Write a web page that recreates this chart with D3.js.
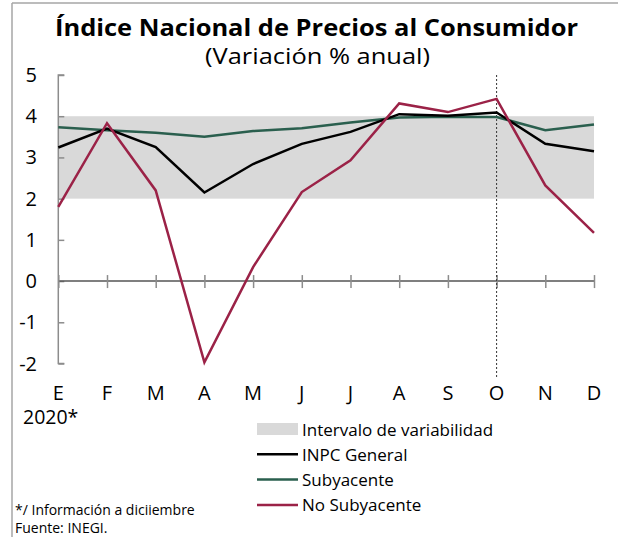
<!DOCTYPE html>
<html>
<head>
<meta charset="utf-8">
<script src="https://cdn.jsdelivr.net/npm/d3@7"></script>
<style>
  html, body { margin: 0; padding: 0; background: #fff; }
  svg { display: block; font-family: "Open Sans", "DejaVu Sans", sans-serif; }
</style>
</head>
<body>
<svg id="chart" width="618" height="537"></svg>
<script>
const months = ["E","F","M","A","M","J","J","A","S","O","N","D"];
const inpcGeneral = [3.24, 3.70, 3.25, 2.15, 2.84, 3.33, 3.62, 4.05, 4.01, 4.09, 3.33, 3.15];
const subyacente = [3.73, 3.66, 3.60, 3.50, 3.64, 3.71, 3.85, 3.97, 3.99, 3.98, 3.66, 3.80];
const noSubyacente = [1.80, 3.83, 2.20, -1.97, 0.34, 2.16, 2.93, 4.31, 4.10, 4.42, 2.32, 1.17];
const bandRange = [2, 4];
const yTicks = [5, 4, 3, 2, 1, 0, -1, -2];
const markerMonth = 9;

const svg = d3.select("#chart");

// frame lines
svg.append("line").attr("x1", 12).attr("x2", 618).attr("y1", 3).attr("y2", 3)
  .attr("stroke", "#a6a6a6").attr("stroke-width", 1.5);
svg.append("line").attr("x1", 12).attr("x2", 12).attr("y1", 3).attr("y2", 537)
  .attr("stroke", "#a6a6a6").attr("stroke-width", 1.5);

const x = d3.scalePoint().domain(d3.range(months.length)).range([58.3, 594]);
const y = d3.scaleLinear().domain([-2, 5]).range([363.5, 75]);

// title
svg.append("text").attr("x", 316.5).attr("y", 36).attr("text-anchor", "middle")
  .attr("font-weight", 700).attr("font-size", 23.5).attr("fill", "#000")
  .attr("textLength", 523).attr("lengthAdjust", "spacingAndGlyphs")
  .text("Índice Nacional de Precios al Consumidor");
svg.append("text").attr("x", 317.5).attr("y", 63.5).attr("text-anchor", "middle")
  .attr("font-size", 21.5).attr("fill", "#000")
  .attr("textLength", 225).attr("lengthAdjust", "spacingAndGlyphs")
  .text("(Variación % anual)");

// band
svg.append("rect")
  .attr("x", x(0)).attr("width", x(11) - x(0))
  .attr("y", y(bandRange[1])).attr("height", y(bandRange[0]) - y(bandRange[1]))
  .attr("fill", "#d9d9d9");

// y axis
const yAxis = d3.axisRight(y).tickValues(yTicks).tickSize(6).tickFormat("");
const gy = svg.append("g").attr("transform", `translate(${x(0)},0)`).call(yAxis);
gy.select(".domain").attr("stroke", "#8c8c8c").attr("stroke-width", 1.5)
  .attr("d", `M6,${y(5)}H0V${y(-2)}H6`);
gy.selectAll(".tick line").attr("stroke", "#8c8c8c").attr("stroke-width", 1.5);

svg.append("g").selectAll("text").data(yTicks).join("text")
  .attr("x", 37).attr("y", d => y(d) + 7).attr("text-anchor", "end")
  .attr("font-size", 20).attr("fill", "#000")
  .text(d => d);

// x axis at 0
const xAxis = d3.axisBottom(x).tickSize(7).tickFormat("");
const gx = svg.append("g").attr("transform", `translate(0,${y(0)})`).call(xAxis);
gx.select(".domain").attr("stroke", "#555").attr("stroke-width", 1.5).attr("d", `M${x(0)},0H${x(11)}`);
gx.selectAll(".tick line").attr("stroke", "#8c8c8c").attr("stroke-width", 1.5).attr("y1", -6);

// month labels
svg.append("g").selectAll("text").data(months).join("text")
  .attr("x", (d, i) => x(i)).attr("y", 400).attr("text-anchor", "middle")
  .attr("font-size", 20).attr("fill", "#000")
  .text(d => d);
svg.append("text").attr("x", 23).attr("y", 424).attr("font-size", 19.5).attr("fill", "#000").text("2020*");

// dotted vertical marker
svg.append("line").attr("x1", x(markerMonth)).attr("x2", x(markerMonth))
  .attr("y1", 75).attr("y2", 378)
  .attr("stroke", "#333").attr("stroke-width", 1).attr("stroke-dasharray", "2,2");

// lines
const line = d3.line().x((d, i) => x(i)).y(d => y(d));
const series = [
  { name: "Subyacente", values: subyacente, color: "#2a5f4e" },
  { name: "INPC General", values: inpcGeneral, color: "#000000" },
  { name: "No Subyacente", values: noSubyacente, color: "#9b2247" }
];
svg.append("g").selectAll("path").data(series).join("path")
  .attr("d", d => line(d.values)).attr("fill", "none")
  .attr("stroke", d => d.color).attr("stroke-width", 2.5)
  .attr("stroke-linejoin", "miter");

// legend
const legendItems = [
  { label: "Intervalo de variabilidad", type: "rect", color: "#d9d9d9" },
  { label: "INPC General", type: "line", color: "#000000" },
  { label: "Subyacente", type: "line", color: "#2a5f4e" },
  { label: "No Subyacente", type: "line", color: "#9b2247" }
];
const lg = svg.append("g").selectAll("g").data(legendItems).join("g")
  .attr("transform", (d, i) => `translate(0,${429 + i * 25.3})`);
lg.filter(d => d.type === "rect").append("rect")
  .attr("x", 257).attr("y", -6).attr("width", 41).attr("height", 12).attr("fill", d => d.color);
lg.filter(d => d.type === "line").append("line")
  .attr("x1", 257).attr("x2", 298).attr("y1", 0).attr("y2", 0)
  .attr("stroke", d => d.color).attr("stroke-width", 2.5);
lg.append("text").attr("x", 302).attr("y", 6.5).attr("font-size", 17).attr("fill", "#000")
  .text(d => d.label);

// footnotes
svg.append("text").attr("x", 15).attr("y", 515).attr("font-size", 14).attr("fill", "#000")
  .text("*/ Información a diciiembre");
svg.append("text").attr("x", 15).attr("y", 533).attr("font-size", 14).attr("fill", "#000")
  .text("Fuente: INEGI.");
</script>
</body>
</html>
